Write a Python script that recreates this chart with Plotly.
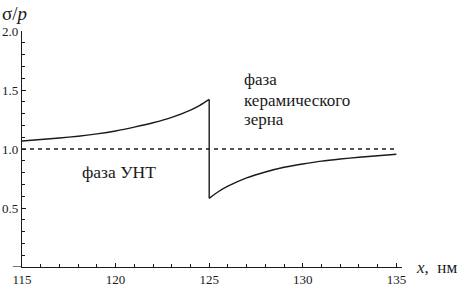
import plotly.graph_objects as go

# data
left_x = [115, 116, 117, 118, 119, 120, 121, 122, 123, 124, 124.5, 125]
left_y = [1.068, 1.08, 1.093, 1.108, 1.128, 1.153, 1.185, 1.222, 1.268, 1.33, 1.37, 1.42]
right_x = [125, 125.5, 126, 127, 128, 129, 130, 131, 132, 133, 134, 135]
right_y = [0.582, 0.64, 0.685, 0.755, 0.805, 0.845, 0.873, 0.897, 0.915, 0.93, 0.943, 0.955]
ref_x = [115, 135]
ref_y = [1.0, 1.0]
x_ticks = [115, 120, 125, 130, 135]
y_ticks = [0.5, 1.0, 1.5, 2.0]
y_ticktext = ["0.5", "1.0", "1.5", "2.0"]
grain_lines = ["фаза", "керамического", "зерна"]
grain_line_y = [1.585, 1.415, 1.25]

serif = "Liberation Serif"
ink = "#1a1a1a"

fig = go.Figure()
fig.add_trace(go.Scatter(x=ref_x, y=ref_y, mode="lines",
                         line=dict(color=ink, width=1.3, dash="4px,4px"),
                         hoverinfo="skip"))
fig.add_trace(go.Scatter(x=left_x, y=left_y, mode="lines",
                         line=dict(color=ink, width=1.4, shape="spline", smoothing=0.6),
                         hoverinfo="skip"))
fig.add_trace(go.Scatter(x=right_x, y=right_y, mode="lines",
                         line=dict(color=ink, width=1.4, shape="spline", smoothing=0.6),
                         hoverinfo="skip"))
fig.add_trace(go.Scatter(x=[left_x[-1], right_x[0]], y=[left_y[-1], right_y[0]], mode="lines",
                         line=dict(color=ink, width=1.4), hoverinfo="skip"))

fig.update_layout(
    width=460, height=288,
    margin=dict(l=22, r=58, t=31, b=21, autoexpand=False),
    paper_bgcolor="white", plot_bgcolor="white",
    showlegend=False,
    font=dict(family=serif, size=11, color=ink),
)
fig.update_xaxes(
    range=[115, 135.3], showgrid=False, zeroline=False, automargin=False,
    showline=True, linecolor=ink, linewidth=1.2,
    tickvals=x_ticks, ticks="inside", ticklen=4, tickcolor=ink, tickwidth=1,
    minor=dict(dtick=1, tick0=115, ticks="inside", ticklen=3, tickcolor=ink, tickwidth=1),
    tickfont=dict(family=serif, size=13, color=ink),
)
fig.update_yaxes(
    range=[0, 2.0], showgrid=False, zeroline=False, automargin=False,
    showline=True, linecolor=ink, linewidth=1.2,
    tickvals=y_ticks, ticktext=y_ticktext, ticks="inside", ticklen=4, tickcolor=ink, tickwidth=1,
    minor=dict(dtick=0.1, tick0=0, ticks="inside", ticklen=3, tickcolor=ink, tickwidth=1),
    tickfont=dict(family=serif, size=13, color=ink), ticklabelstandoff=0,
)

# extension of x-axis line to the left
fig.add_shape(type="line", xref="paper", yref="y", x0=-0.024, x1=0, y0=0, y1=0,
              line=dict(color=ink, width=1.2))

fig.add_annotation(text="σ/<i>p</i>", xref="paper", yref="paper", x=-0.058, y=1.0, yshift=18,
                   xanchor="left", yanchor="middle", showarrow=False,
                   font=dict(family=serif, size=19, color=ink))
fig.add_annotation(text="<i>x</i>,&nbsp; нм", xref="paper", yref="y", x=1.0, y=0, xshift=12,
                   xanchor="left", yanchor="middle", showarrow=False,
                   font=dict(family=serif, size=17, color=ink))
for txt, yy in zip(grain_lines, grain_line_y):
    fig.add_annotation(text=txt, xref="x", yref="y", x=126.75, y=yy,
                       xanchor="left", yanchor="middle", showarrow=False,
                       font=dict(family=serif, size=17, color=ink))
fig.add_annotation(text="фаза УНТ", xref="x", yref="y",
                   x=118.1, y=0.805, xanchor="left", yanchor="middle",
                   showarrow=False, font=dict(family=serif, size=17.5, color=ink))

fig.write_html("out.html", post_script="document.body.style.margin='0';",
               config={"displayModeBar": False})
